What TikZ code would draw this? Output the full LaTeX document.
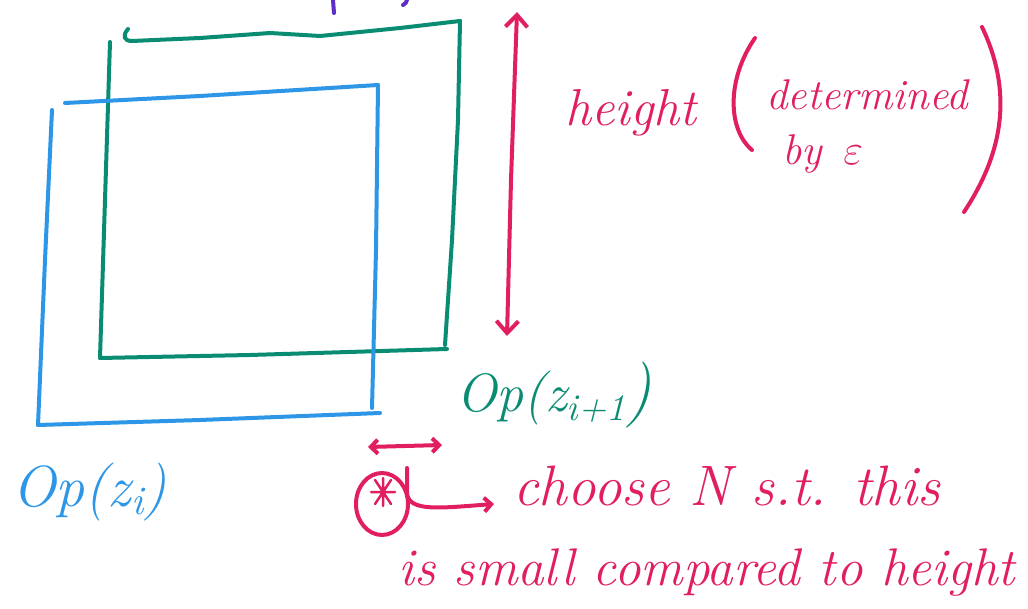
\RequirePackage{fix-cm}
\documentclass[tikz,border=0pt]{standalone}
\usetikzlibrary{arrows.meta,calc}
\definecolor{grn}{RGB}{10,140,115}
\definecolor{blu}{RGB}{45,150,230}
\definecolor{rd}{RGB}{225,30,95}
\definecolor{prp}{RGB}{95,45,200}
\begin{document}
\begin{tikzpicture}[x=1pt,y=-1pt,
  pen/.style={line width=4pt, line cap=round, line join=round},
  hand/.style={font=\itshape\fontsize{44}{50}\selectfont, inner sep=0pt, anchor=base west}]
\useasboundingbox (0,0) rectangle (1028,609);
% purple cut-off strokes at top
\draw[pen,prp] (333,0) -- (334,13);
\draw[pen,prp] (407,0) .. controls (406,3) .. (403,5);
% green square
\draw[pen,grn] (128,29) .. controls (122,36) and (124,41) .. (132,41) -- (200,38) -- (270,33) -- (320,36) -- (400,28) -- (460,21);
\draw[pen,grn] (460,21) -- (458,120) -- (452,240) -- (445,345);
\draw[pen,grn] (110,42) -- (105,200) -- (100,358);
\draw[pen,grn] (100,358) -- (250,355) -- (447,349);
% blue square
\draw[pen,blu] (65,103) -- (200,96) -- (378,85);
\draw[pen,blu] (378,85) -- (376,250) -- (372,408);
\draw[pen,blu] (52,110) -- (45,260) -- (38,425);
\draw[pen,blu] (38,425) -- (200,420) -- (380,413);
% red vertical double arrow
\draw[pen,rd,{Straight Barb[length=12pt,width=22pt]}-{Straight Barb[length=12pt,width=22pt]}] (517,12) -- (511,180) -- (507,336);
% labels
\node[hand,rd,font=\itshape\fontsize{52}{56}\selectfont] (height) at (565,126) {height};
\draw[pen,rd] (755,38) .. controls (726,80) and (728,130) .. (752,150);
\node[hand,rd,font=\itshape\fontsize{43}{48}\selectfont] (det) at (766,110) {determined};
\node[hand,rd,font=\itshape\fontsize{43}{48}\selectfont] (by) at (782,165) {by\hspace{0.5em}$\varepsilon$};
\draw[pen,rd] (982,27) .. controls (1012,90) and (1005,150) .. (964,212);
\node[hand,grn,font=\itshape\fontsize{54}{58}\selectfont] (opz1) at (456,412) {Op(z\textsubscript{i+1}\fontsize{66}{66}\selectfont)};
\node[hand,blu,font=\itshape\fontsize{58}{62}\selectfont] (opz) at (12,506) {Op(z\textsubscript{i})};
% small horizontal double arrow
\draw[pen,rd,{Straight Barb[length=7pt,width=14pt]}-{Straight Barb[length=7pt,width=14pt]}] (368,447) -- (442,445);
% circled asterisk
\draw[pen,rd] (382,504) ellipse [x radius=26, y radius=31];
\coordinate (ast) at (383,492);
\draw[rd,line width=2.5pt,line cap=round] ($(ast)+(-12,0)$) -- ($(ast)+(12,0)$) ($(ast)+(-8,-12)$) -- ($(ast)+(8,12)$) ($(ast)+(8,-12)$) -- ($(ast)+(-8,12)$) ($(ast)+(0,-14)$) -- ($(ast)+(0,14)$);
\coordinate (stem) at (407,468);
\coordinate (tip) at (494,504);
\draw[pen,rd,-{Straight Barb[length=7pt,width=14pt]}] (stem) -- (407,494) .. controls (410,512) and (440,508) .. (tip);
\node[hand,rd,font=\itshape\fontsize{57}{60}\selectfont] (choose) at (513,505) {choose N s.t. this};
\node[hand,rd,font=\itshape\fontsize{53}{58}\selectfont] (small) at (398,585) {is small compared to height};
\end{tikzpicture}
\end{document}
